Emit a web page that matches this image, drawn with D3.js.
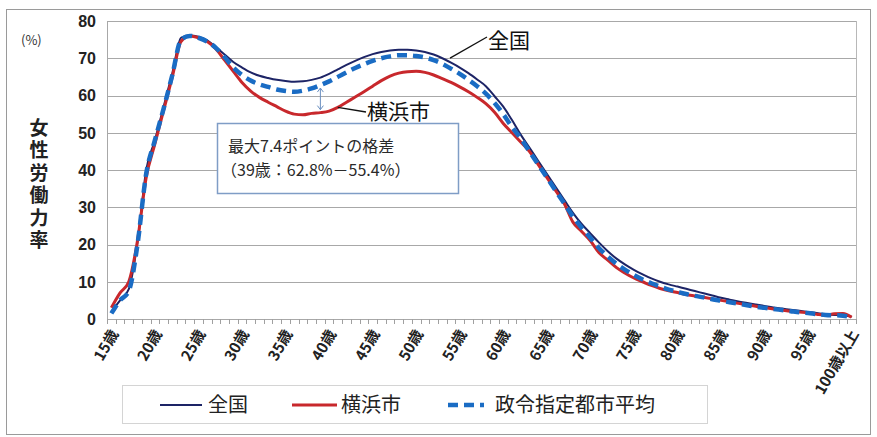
<!DOCTYPE html>
<html>
<head>
<meta charset="utf-8">
<script src="https://cdn.jsdelivr.net/npm/d3@7/dist/d3.min.js"></script>
<style>
  body { margin: 0; background: #fff; }
  svg { display: block; }
</style>
</head>
<body>
<svg id="chart" width="877" height="437"></svg>
<script>
// ages 15..99 plus 100+
const ages = d3.range(15, 100).map(a => `${a}歳`).concat(["100歳以上"]);

// 全国
const national = [
  2, 5, 8, 20.5, 40, 48, 57, 66, 75.5, 76.2,
  75.8, 74.8, 73, 71, 69, 67.5, 66.2, 65.3, 64.7, 64.2,
  63.9, 63.7, 63.8, 64.2, 64.8, 65.8, 67, 68.2, 69.3, 70.3,
  71.1, 71.7, 72.1, 72.3, 72.3, 72.1, 71.7, 71, 70, 68.8,
  67.5, 66, 64.3, 62.5, 59.8, 57, 53.4, 49.5, 46, 42.5,
  39, 35.5, 32, 28.5, 25.5, 23, 20.5, 18.2, 16.2, 14.6,
  13.2, 12, 10.9, 10, 9.3, 8.7, 8.1, 7.5, 6.9, 6.3,
  5.7, 5.2, 4.7, 4.3, 3.9, 3.5, 3.1, 2.8, 2.5, 2.2,
  1.9, 1.6, 1.3, 1.1, 1.0, 0.6
];

// 横浜市
const yokohama = [
  3, 7, 10, 21, 38, 47, 56, 65, 74.5, 76,
  75.5, 74.5, 72.5, 69.5, 66.5, 63.5, 61.2, 59.5, 58.2, 57,
  55.8, 55, 54.8, 55.2, 55.4, 55.8, 56.8, 58.2, 59.6, 61,
  62.5, 64, 65.2, 66, 66.4, 66.5, 66.2, 65.5, 64.5, 63.5,
  62.3, 61, 59.5, 57.8, 55.5, 52.5, 50, 47.5, 45, 41.5,
  38, 34.5, 31, 26, 23.5, 21, 17.8, 15.8, 13.8, 12.3,
  11, 10, 9, 8.2, 7.6, 7.1, 6.6, 6.2, 5.8, 5.4,
  5, 4.6, 4.2, 3.8, 3.4, 3, 2.7, 2.4, 2.1, 1.9,
  1.7, 1.3, 1.0, 1.4, 1.5, 0.5
];

// 政令指定都市平均
const cityAvg = [
  1.5, 5, 7.5, 20, 39, 48, 56.5, 65.5, 75, 76,
  75.5, 74.5, 72.8, 70.3, 67.5, 65.5, 64, 63, 62.3, 61.6,
  61.2, 61, 61.3, 61.9, 62.8, 63.8, 65, 66.2, 67.4, 68.4,
  69.3, 70, 70.5, 70.8, 70.8, 70.6, 70.2, 69.5, 68.5, 67.2,
  65.8, 64.2, 62.5, 60.5, 58, 55, 51.5, 48.5, 45, 41.5,
  38, 34.5, 31, 27.5, 24.5, 21.8, 19, 16.8, 14.8, 13.2,
  11.8, 10.6, 9.6, 8.7, 7.9, 7.3, 6.7, 6.2, 5.8, 5.3,
  4.9, 4.5, 4.1, 3.7, 3.3, 3, 2.7, 2.4, 2.1, 1.8,
  1.6, 1.3, 1.1, 1.0, 0.9, 0.4
];

const yTicks = [0, 10, 20, 30, 40, 50, 60, 70, 80];
const yTitle = "女性労働力率";

const series = [
  { name: "全国", values: national, color: "#1d2466", width: 2, dash: null },
  { name: "横浜市", values: yokohama, color: "#c8282c", width: 3, dash: null },
  { name: "政令指定都市平均", values: cityAvg, color: "#1a6cc4", width: 4.5, dash: "10 6" }
];

const latin = "'Liberation Sans', Arial, sans-serif";
const cjk = "'Noto Sans CJK JP', 'Liberation Sans', sans-serif";

const svg = d3.select("#chart");
const margin = { left: 107, right: 21, top: 21, bottom: 118 };
const width = 877, height = 437;

// outer frame
svg.append("rect")
  .attr("x", 6.5).attr("y", 9.5)
  .attr("width", 864).attr("height", 425)
  .attr("fill", "none").attr("stroke", "#9a9a9a").attr("stroke-width", 1);

const x = d3.scaleBand()
  .domain(ages)
  .range([margin.left, width - margin.right]);

const y = d3.scaleLinear()
  .domain([0, 80])
  .range([height - margin.bottom, margin.top]);

// gridlines
svg.append("g")
  .selectAll("line")
  .data(yTicks)
  .join("line")
  .attr("x1", margin.left).attr("x2", width - margin.right)
  .attr("y1", d => Math.round(y(d)) + 0.5).attr("y2", d => Math.round(y(d)) + 0.5)
  .attr("stroke", "#a8a8a8").attr("stroke-width", 1.2);

// plot edges
svg.append("line")
  .attr("x1", margin.left + 0.5).attr("x2", margin.left + 0.5)
  .attr("y1", y(80)).attr("y2", y(0))
  .attr("stroke", "#a8a8a8");
svg.append("line")
  .attr("x1", width - margin.right + 0.5).attr("x2", width - margin.right + 0.5)
  .attr("y1", y(80)).attr("y2", y(0))
  .attr("stroke", "#b8b8b8");

// y axis labels
svg.append("g")
  .selectAll("text")
  .data(yTicks)
  .join("text")
  .attr("x", 96).attr("y", d => y(d))
  .attr("dy", "0.36em")
  .attr("text-anchor", "end")
  .attr("font-family", latin)
  .attr("font-weight", "bold")
  .attr("font-size", 16)
  .attr("fill", "#222")
  .text(d => d);

// x axis tick marks (category boundaries)
const bounds = ages.map(a => x(a)).concat([x(ages[ages.length - 1]) + x.bandwidth()]);
svg.append("g")
  .selectAll("line")
  .data(bounds)
  .join("line")
  .attr("x1", d => Math.round(d) + 0.5).attr("x2", d => Math.round(d) + 0.5)
  .attr("y1", y(0)).attr("y2", y(0) + 5)
  .attr("stroke", "#a0a0a0");

// x axis labels every 5 years
const labelAges = ages.filter((a, i) => i % 5 === 0);
svg.append("g")
  .selectAll("text")
  .data(labelAges)
  .join("text")
  .attr("transform", d => `translate(${x(d) + x.bandwidth() / 2 + 3},${y(0) + 12}) rotate(-60)`)
  .attr("text-anchor", "end")
  .attr("dy", "0.35em")
  .attr("font-family", cjk)
  .attr("font-weight", "bold")
  .attr("font-size", 15)
  .attr("fill", "#222")
  .text(d => d);

// y title
svg.append("text")
  .attr("x", 21).attr("y", 45)
  .attr("font-family", cjk)
  .attr("font-size", 13)
  .attr("fill", "#333")
  .text("(%)");

svg.append("text")
  .attr("x", 39).attr("y", 118)
  .style("writing-mode", "vertical-rl")
  .style("letter-spacing", "3.5px")
  .attr("font-family", cjk)
  .attr("font-weight", "bold")
  .attr("font-size", 19)
  .attr("fill", "#222")
  .text(yTitle);

// lines
const line = d3.line()
  .x((d, i) => x(ages[i]) + x.bandwidth() / 2)
  .y(d => y(d))
  .curve(d3.curveMonotoneX);

svg.append("g")
  .selectAll("path")
  .data(series)
  .join("path")
  .attr("d", d => line(d.values))
  .attr("fill", "none")
  .attr("stroke", d => d.color)
  .attr("stroke-width", d => d.width)
  .attr("stroke-dasharray", d => d.dash)
  .attr("stroke-linejoin", "round");

// gap arrow at 39
const gx = x("39歳") + x.bandwidth() / 2;
const arrowColor = "#6a8fc0";
svg.append("line")
  .attr("x1", gx).attr("x2", gx)
  .attr("y1", y(62.8) + 3).attr("y2", y(55.4) - 3)
  .attr("stroke", arrowColor).attr("stroke-width", 1);
svg.append("path")
  .attr("d", `M${gx - 3},${y(62.8) + 7}L${gx},${y(62.8) + 3}L${gx + 3},${y(62.8) + 7}`)
  .attr("fill", "none").attr("stroke", arrowColor);
svg.append("path")
  .attr("d", `M${gx - 3},${y(55.4) - 7}L${gx},${y(55.4) - 3}L${gx + 3},${y(55.4) - 7}`)
  .attr("fill", "none").attr("stroke", arrowColor);

// callouts
const nx = x("54歳") + x.bandwidth() / 2;
svg.append("line")
  .attr("x1", nx - 1).attr("y1", y(69.5) - 2)
  .attr("x2", 487).attr("y2", 37)
  .attr("stroke", "#111").attr("stroke-width", 1.3);
svg.append("text")
  .attr("x", 488).attr("y", 40)
  .attr("dy", "0.36em")
  .attr("font-family", cjk).attr("font-size", 21)
  .attr("fill", "#111")
  .text("全国");

const yx = x("41歳") + x.bandwidth() / 2;
svg.append("line")
  .attr("x1", yx).attr("y1", y(56.8))
  .attr("x2", 366).attr("y2", 112)
  .attr("stroke", "#111").attr("stroke-width", 1.3);
svg.append("text")
  .attr("x", 367).attr("y", 111)
  .attr("dy", "0.36em")
  .attr("font-family", cjk).attr("font-size", 21)
  .attr("fill", "#111")
  .text("横浜市");

// annotation box
svg.append("rect")
  .attr("x", 217.5).attr("y", 123.5)
  .attr("width", 241).attr("height", 70)
  .attr("fill", "#fff")
  .attr("stroke", "#7f9dc6").attr("stroke-width", 1.5);
svg.append("text")
  .attr("x", 228).attr("y", 152)
  .attr("font-family", cjk).attr("font-size", 16)
  .attr("fill", "#2a2a2a")
  .text("最大7.4ポイントの格差");
svg.append("text")
  .attr("x", 221).attr("y", 176)
  .attr("font-family", cjk).attr("font-size", 16)
  .attr("fill", "#2a2a2a")
  .text("（39歳：62.8%－55.4%）");

// legend
const legend = svg.append("g");
legend.append("rect")
  .attr("x", 122.5).attr("y", 385.5)
  .attr("width", 585).attr("height", 38)
  .attr("fill", "#fff").attr("stroke", "#d4d4d4");

const legendItems = [
  { s: series[0], x0: 160, x1: 202, tx: 208 },
  { s: series[1], x0: 292, x1: 337, tx: 341 },
  { s: series[2], x0: 448, x1: 484, tx: 495 }
];
const li = legend.selectAll("g.item")
  .data(legendItems)
  .join("g")
  .attr("class", "item");
li.append("line")
  .attr("x1", d => d.x0).attr("x2", d => d.x1)
  .attr("y1", 405).attr("y2", 405)
  .attr("stroke", d => d.s.color)
  .attr("stroke-width", d => d.s.width)
  .attr("stroke-dasharray", d => d.s.dash);
li.append("text")
  .attr("x", d => d.tx).attr("y", 405)
  .attr("dy", "0.36em")
  .attr("font-family", cjk).attr("font-size", 20)
  .attr("fill", "#222")
  .text(d => d.s.name);
</script>
</body>
</html>
